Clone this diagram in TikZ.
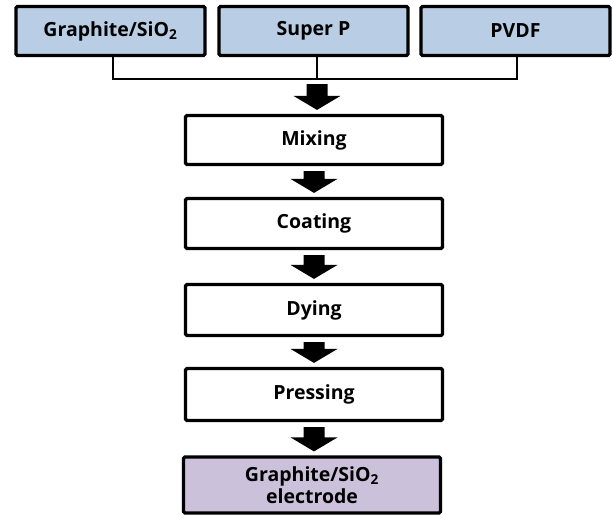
\documentclass[tikz,border=0pt]{standalone}
\usepackage{fontspec}
\setmainfont{Open Sans}
\usetikzlibrary{calc}
\definecolor{inputblue}{HTML}{B9CDE5}
\definecolor{productlilac}{HTML}{CCC1DA}

% solid block arrow pointing down from point #1 to point #2 (x taken from #1)
\newcommand\flowarrow[2]{%
  \coordinate (fa-t) at ($(#1)+(0,5)$);
  \coordinate (fa-p) at ($(fa-t |- #2)+(0,-4)$);
  \fill[black] ($(fa-t)+(-10.5,0)$) -- ($(fa-t)+(10.5,0)$)
    -- ($(fa-p)+(10.5,-14)$) -- ($(fa-p)+(23.5,-14)$) -- (fa-p)
    -- ($(fa-p)+(-23.5,-14)$) -- ($(fa-p)+(-10.5,-14)$) -- cycle;
}

\begin{document}
\begin{tikzpicture}[x=1pt,y=-1pt,
  box/.style={draw=black, line width=3.2pt, rounded corners=1.5pt,
    font=\bfseries\fontsize{19.5}{23}\selectfont, inner sep=0pt, align=center},
  inbox/.style={box, fill=inputblue, minimum width=189pt, minimum height=49pt},
  stepbox/.style={box, fill=white, minimum width=257pt},
  conn/.style={draw=black, line width=2.8pt}]
\useasboundingbox (0,0) rectangle (613,515);

% raw materials
\node[inbox] (gr) at (110.5,31) {Graphite/SiO$_\mathbf{2}$};
\node[inbox] (sp) at (313.5,31) {Super P};
\node[inbox] (pv) at (515.5,31) {PVDF};

% collecting line
\coordinate (bus) at (317,79);
\draw[conn] ([xshift=2.5pt]gr.south) |- (bus) -| ([xshift=1.5pt]pv.south);
\draw[conn] ([xshift=3.5pt]sp.south) -- ([xshift=3.5pt]sp.south |- bus);

% process steps
\node[stepbox, minimum height=49pt] (mix) at (314,140) {Mixing};
\node[stepbox, minimum height=50pt] (coat) at (314,223.5) {Coating};
\node[stepbox, minimum height=51pt] (dry) at (314,310) {Dying};
\node[stepbox, minimum height=52pt] (press) at (314,394.5) {Pressing};
\node[box, fill=productlilac, minimum width=257pt, minimum height=56pt,
  font=\bfseries\fontsize{19.5}{22}\selectfont] (elec) at (312,485)
  {Graphite/SiO$_\mathbf{2}$\\electrode};

% flow arrows
\flowarrow{bus}{mix.north}
\flowarrow{mix.south}{coat.north}
\flowarrow{coat.south}{dry.north}
\flowarrow{dry.south}{press.north}
\flowarrow{press.south}{elec.north}
\end{tikzpicture}
\end{document}
